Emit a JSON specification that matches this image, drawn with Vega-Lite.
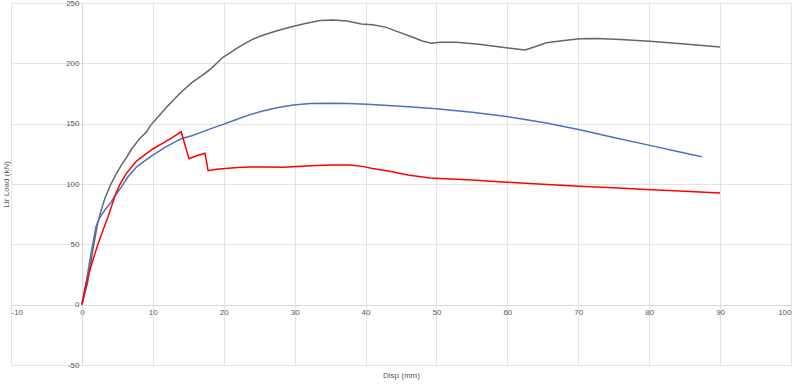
{
  "$schema": "https://vega.github.io/schema/vega-lite/v6.json",
  "autosize": "none",
  "width": 780,
  "height": 362,
  "padding": {"left": 11, "top": 3, "right": 9, "bottom": 23},
  "background": "white",
  "config": {"view": {"stroke": null}, "font": "Liberation Sans"},
  "datasets": {
    "gray": [[0,0],[0.8,18],[1.5,44],[2.2,67],[2.8,80],[3.3,89],[4.1,100],[4.8,108],[5.5,115],[6.3,122],[7,129],[8.2,138],[9.1,143],[9.6,148],[10.5,154],[12,164],[13.8,175],[15.5,184],[17.2,191],[18.1,195],[19.9,205],[22,213],[24.1,220],[25.4,223],[27.5,227],[30,231],[31.5,233],[33.6,235.5],[35.4,236],[37.4,235],[39.4,232.6],[41,232],[42.8,230],[44.4,226.5],[46.5,222],[48,218.5],[49.3,216.6],[50.5,217.5],[52.8,217.4],[56,215.8],[59,213.5],[62.5,211],[64,214],[65.5,217],[68,219],[70.2,220.4],[72.6,220.6],[76,219.8],[80.1,218.4],[85,216],[90,213.5]],
    "blue": [[0,0],[0.7,22],[1.3,43],[2,65],[2.5,72],[3.2,78],[4.1,85],[4.65,90],[5.5,97],[6.5,106],[7.7,114],[8.8,119],[10,124],[11.5,129.5],[13,134.5],[14,137.5],[15.5,140],[16.6,142.4],[18,145.5],[19.9,149.4],[21.8,153.5],[23.7,157.5],[25.5,160.5],[27.5,163.2],[29.8,165.5],[32.2,166.7],[35,167],[37.5,166.7],[40.2,166],[45,164.5],[50,162.3],[55,159.5],[59.9,156],[62.5,153.5],[65.5,150.5],[70.2,145],[75,138.5],[80.1,132],[84,127],[87.4,122.6]],
    "red": [[0,0],[0.4,12],[0.85,23],[1.5,36],[2.2,49],[3,62],[3.7,73],[4.65,90],[5.3,99],[6.3,109],[7.7,119],[8.8,124],[10,129],[11.5,134],[13,139.5],[14,143.3],[15.1,121],[16,123],[17.35,125.5],[17.8,111],[19,112.3],[20.2,112.8],[22,113.6],[23.7,114],[26,114],[28.4,113.8],[31,114.8],[33.1,115.3],[35.5,115.8],[37.8,115.8],[39.7,114.4],[41,112.8],[43.4,110.6],[46,107.5],[49.1,105],[55,103.3],[59.9,101.5],[65,99.8],[70.2,98.2],[75,96.8],[79.6,95.4],[85,94],[90,92.5]]
  },
  "layer": [
    {
      "data": {"name": "gray"},
      "transform": [{"calculate": "datum[0]", "as": "disp"}, {"calculate": "datum[1]", "as": "load"}],
      "mark": {"type": "line", "color": "#666666", "strokeWidth": 1.5},
      "encoding": {
        "x": {"field": "disp", "type": "quantitative", "scale": {"domain": [-10, 100], "nice": false},
          "axis": {"title": "Disp (mm)", "values": [-10,0,10,20,30,40,50,60,70,80,90,100], "labelExpr": "'' + datum.value", "offset": -60, "domainColor": "#d9d9d9", "ticks": false, "gridColor": "#e3e3e3", "labelColor": "#595959", "labelFontSize": 8, "labelPadding": 3, "titleColor": "#595959", "titleFontSize": 8, "titleFontWeight": "normal", "titleY": 66}},
        "y": {"field": "load", "type": "quantitative", "scale": {"domain": [-50, 250], "nice": false},
          "axis": {"title": "Ltr Load (kN)", "values": [-50,0,50,100,150,200,250], "labelExpr": "'' + datum.value", "offset": -71, "domainColor": "#d9d9d9", "ticks": false, "gridColor": "#e3e3e3", "labelColor": "#595959", "labelFontSize": 8, "labelPadding": 3, "titleColor": "#595959", "titleFontSize": 8, "titleFontWeight": "normal", "titleX": -72}}
      }
    },
    {
      "data": {"name": "blue"},
      "transform": [{"calculate": "datum[0]", "as": "disp"}, {"calculate": "datum[1]", "as": "load"}],
      "mark": {"type": "line", "color": "#4472c4", "strokeWidth": 1.5},
      "encoding": {
        "x": {"field": "disp", "type": "quantitative"},
        "y": {"field": "load", "type": "quantitative"}
      }
    },
    {
      "data": {"name": "red"},
      "transform": [{"calculate": "datum[0]", "as": "disp"}, {"calculate": "datum[1]", "as": "load"}],
      "mark": {"type": "line", "color": "#ff0000", "strokeWidth": 1.5},
      "encoding": {
        "x": {"field": "disp", "type": "quantitative"},
        "y": {"field": "load", "type": "quantitative"}
      }
    }
  ]
}
